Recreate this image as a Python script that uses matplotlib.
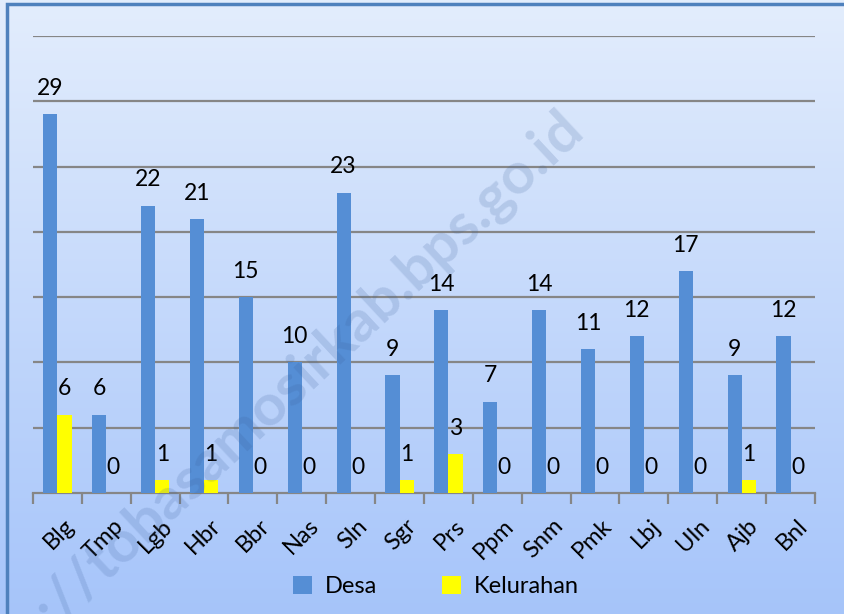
import matplotlib.pyplot as plt
import matplotlib.transforms as mtransforms
import numpy as np
from matplotlib.patches import Rectangle

kecamatan = ['Blg', 'Tmp', 'Lgb', 'Hbr', 'Bbr', 'Nas', 'Sln', 'Sgr',
             'Prs', 'Ppm', 'Snm', 'Pmk', 'Lbj', 'Uln', 'Ajb', 'Bnl']
desa = [29, 6, 22, 21, 15, 10, 23, 9, 14, 7, 14, 11, 12, 17, 9, 12]
kelurahan = [6, 0, 1, 1, 0, 0, 0, 1, 3, 0, 0, 0, 0, 0, 1, 0]

plt.rcParams['font.family'] = ['Lato', 'DejaVu Sans']

fig = plt.figure(figsize=(8.45, 6.14), dpi=100)

# gradient background
bg = fig.add_axes([0, 0, 1, 1], zorder=-10)
grad = np.linspace(0, 1, 256).reshape(-1, 1)
top = np.array([0.89, 0.93, 0.99])
bot = np.array([0.65, 0.77, 0.98])
img = top + (bot - top) * grad[:, :, None]
bg.imshow(img, aspect='auto', extent=[0, 1, 0, 1], origin='upper')
bg.set_xlim(0, 1)
bg.set_ylim(0, 1)
bg.axis('off')
bg.add_patch(Rectangle((7 / 845, -0.05), 1.0, 1 - 4 / 614 + 0.05,
                       fill=False, edgecolor='#4F81BD', linewidth=2.5))

ax = fig.add_axes([33 / 845, 1 - 493 / 614, 782 / 845, (493 - 36) / 614])
ax.set_facecolor('none')

x = np.arange(len(kecamatan))
w = 0.29
b1 = ax.bar(x - w / 2, desa, w, color='#558ED5', label='Desa', zorder=3)
b2 = ax.bar(x + w / 2, kelurahan, w, color='#FFFF00', label='Kelurahan', zorder=3)

for rect, v in zip(list(b1) + list(b2), desa + kelurahan):
    ax.annotate(str(v), (rect.get_x() + rect.get_width() / 2, rect.get_height()),
                xytext=(0, 11), textcoords='offset points',
                ha='center', va='bottom', fontsize=16.5, color='black')

ax.set_xlim(-0.5, len(kecamatan) - 0.5)
ax.set_ylim(0, 35)
ax.set_yticks(range(5, 36, 5))
ax.yaxis.grid(True, color='#868686', linewidth=1.6, zorder=0)
ax.tick_params(axis='y', left=False, labelleft=False)
for s in ['top', 'right', 'left']:
    ax.spines[s].set_visible(False)
ax.spines['bottom'].set_color('#868686')
ax.spines['bottom'].set_linewidth(1.6)

ax.set_xticks(np.arange(-0.5, len(kecamatan), 1.0), minor=False)
ax.set_xticklabels([])
ax.tick_params(axis='x', which='major', length=8, width=1.6, color='#868686')
ax.set_xticks(x, minor=True)
ax.set_xticklabels(kecamatan, minor=True, rotation=45, ha='right',
                   rotation_mode='anchor', fontsize=17)
ax.tick_params(axis='x', which='minor', length=0, pad=16)
shift = mtransforms.ScaledTranslation(6 / 100, 0, fig.dpi_scale_trans)
for lbl in ax.get_xticklabels(minor=True):
    lbl.set_transform(lbl.get_transform() + shift)

ax.legend(loc='center', bbox_to_anchor=(0.515, -0.205), ncol=2, frameon=False,
          fontsize=17, handlelength=0.8, handleheight=0.8, columnspacing=2.75,
          handletextpad=0.55)

fig.text(0.318, 0.34, 'http://tobasamosirkab.bps.go.id', rotation=43,
         ha='center', va='center', fontsize=42, fontweight='bold',
         color='#3A5F9A', alpha=0.18, zorder=20)

fig.savefig('out.png', dpi=100)
